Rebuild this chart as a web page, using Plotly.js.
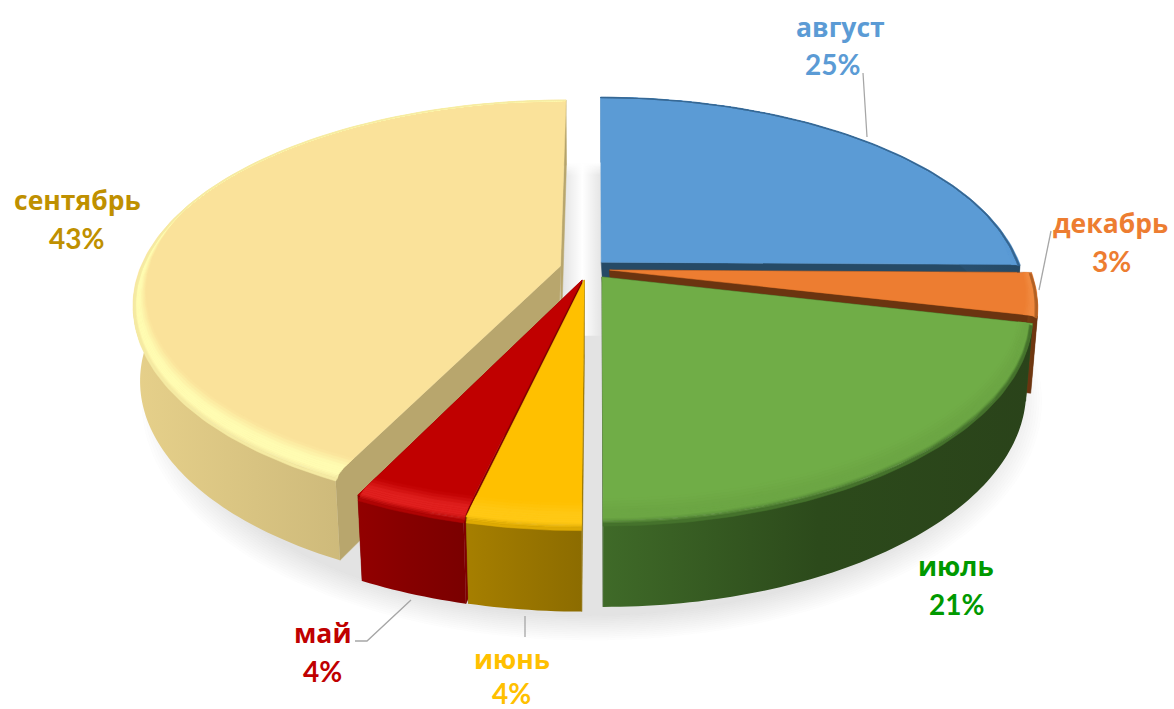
<!DOCTYPE html>
<html><head><meta charset="utf-8">
<script src="https://cdn.plot.ly/plotly-3.0.1.min.js"></script>
<style>html,body{margin:0;padding:0;background:#fff}#c{width:1174px;height:709px}</style>
</head><body><div id="c"></div>
<script>
// ---- data, clockwise from 12 o'clock ----
const categories = ['август','декабрь','июль','июнь','май','сентябрь'];
const values = [25.2,3.4,21.4,3.6,3.6,42.8];

// ---- styles ----
const labelColors = ['#5B9BD5','#ED7D31','#009900','#FFC000','#C00000','#BF9000'];
const topColors = ['#5B9BD5','#ED7D31','#70AD47','#FFC000','#C00000','#FAE29A'];
const bevelMid = ['#5B9BD5','#F08A40','#6CA644','#FFC815','#E0201F','#FFFCB2'];
const bevelEdge = ['#2F5C85','#A85A20','#3F6A28','#D9A600','#A80000','#F3E7A0'];
const wallLeft = ['#3A6F9E','#7A4014','#3F6A28','#A67F00','#920000','#E6D08A'];
const wallMid = ['#2F5C85','#703810','#2C4A1B','#997500','#850000','#CDB97A'];
const wallRight = ['#264A66','#6B3410','#2A431A','#8C6C00','#7A0000','#B5A36A'];
const cutWall = ['#264A66','#6B3410','#2F4F1D','#8C6C00','#7F0000','#B8A66D'];
const pull = [[.01,-.04],[.03,.0],[.012,.035],[-.03,.05],[-.035,.05],[-.087,-.02]];
const drawOrder = [5,0,1,2,4,3];

// ---- projection of the tilted disc ----
const cx=597, cy=270, B=421, A=197, k=.178, H=76, m=.015;
function P(u,v,z){const w=1-k*v+m*z;return [cx+B*u/w, cy+(A*v+H*z)/w];}
function polar(i,deg,r,z){const t=deg*Math.PI/180;
  return P(pull[i][0]+r*Math.sin(t),pull[i][1]-r*Math.cos(t),z);}
function arc(i,a0,a1,r,z){const n=Math.max(2,Math.ceil(Math.abs(a1-a0)));const o=[];
  for(let j=0;j<=n;j++)o.push(polar(i,a0+(a1-a0)*j/n,r,z));return o;}
// rim curve: the bevel is widest at the front and vanishes towards the back
function rim(i,a0,a1,w,z){const n=Math.max(2,Math.ceil(Math.abs(a1-a0)));const o=[];
  for(let j=0;j<=n;j++){const d=a0+(a1-a0)*j/n;
    const f=Math.max(0,(.3-Math.cos(d*Math.PI/180))/1.3);
    o.push(polar(i,d,1-.004*(w>0?1:0)-w*f,z*f));}
  return o;}
function hex(c){return [1,3,5].map(p=>parseInt(c.substr(p,2),16));}
function mix(a,b,t){const x=hex(a),y=hex(b);return 'rgb('+x.map((v,i)=>Math.round(v+(y[i]-v)*t)).join(',')+')';}

const traces=[];
function poly(pts,color,grad){
  const tr={type:'scatter',x:pts.map(p=>p[0]).concat(pts[0][0]),y:pts.map(p=>p[1]).concat(pts[0][1]),
    fill:'toself',hoverinfo:'skip',showlegend:false};
  if(grad){tr.mode='none';tr.fillgradient={type:'horizontal',colorscale:grad.map((c,j)=>[j/(grad.length-1),c])};}
  else{tr.mode='lines';tr.fillcolor=color;tr.line={color:color,width:.5};}
  traces.push(tr);
}
// soft shadow underneath
for(let s=0;s<14;s++){
  const r=1.1-s*.006, pts=[];
  for(let d=0;d<360;d+=2){const t=d*Math.PI/180;pts.push(P(-.012+.97*r*Math.sin(t),-r*Math.cos(t),1.15));}
  poly(pts,'rgba(120,120,120,0.016)');
}
// the lit centre of the gap between the pulled slices
{
  const L=polar(5,0,0,0)[0]+2, R=polar(0,0,0,0)[0]+1, T=polar(0,0,.56,0)[1], Bt=polar(2,180,.28,0)[1];
  poly([[L,T],[R,T],[R,Bt],[L,Bt]],null,['rgba(255,255,255,0)','rgba(255,255,255,1)','rgba(255,255,255,0)']);
}
// slices
const total=values.reduce((a,b)=>a+b,0);
const starts=[];values.reduce((a,v,i)=>{starts[i]=a;return a+v;},0);
drawOrder.forEach(i=>{
  const a0=starts[i]/total*360,a1=(starts[i]+values[i])/total*360;
  const apexT=polar(i,0,0,0);
  // radial cut walls
  if(a0>0) poly([apexT,polar(i,a0,1,0),polar(i,a0,1,1),polar(i,a0,.012,1)],cutWall[i]);
  poly([apexT,polar(i,a1,1,0),polar(i,a1,1,1),polar(i,a1,.012,1)],cutWall[i]);
  // outer wall
  poly(arc(i,a0,a1,1,.02).concat(arc(i,a1,a0,1,1)),null,[wallLeft[i],wallMid[i],wallRight[i]]);
  // top face
  poly([apexT].concat(arc(i,a0,a1,1,0)),topColors[i]);
  // bevelled rim
  const stops=[[.07,0,topColors[i]],[.03,0,bevelMid[i]],[.008,.025,bevelMid[i]],[0,.07,bevelEdge[i]]];
  for(let s=0;s<stops.length-1;s++){
    const p=stops[s],q=stops[s+1];
    for(let n=0;n<4;n++){
      const t0=n/4,t1=(n+1)/4;
      poly(rim(i,a0,a1,p[0]+(q[0]-p[0])*t0,p[1]+(q[1]-p[1])*t0)
        .concat(rim(i,a1,a0,p[0]+(q[0]-p[0])*t1,p[1]+(q[1]-p[1])*t1)),
        mix(p[2],q[2],(t0+t1)/2));
    }
  }
});
// leader lines
const leaders=[
  [[863,73],[867,137]],
  [[1051,231],[1039,290]],
  [[525,616],[525,637]],
  [[355,641],[367,641],[411,600]]
];
leaders.forEach(l=>traces.push({type:'scatter',mode:'lines',x:l.map(p=>p[0]),y:l.map(p=>p[1]),
  line:{color:'#A6A6A6',width:1.3},hoverinfo:'skip',showlegend:false}));

// labels
const labelPos=[[840,27],[1110,223],[956,566],[512,659],[322,633],[77,200]];
const percentPos=[[832,64],[1111,261],[956,604],[511,693],[322,671],[76,238]];
const annotations=[];
categories.forEach((c,i)=>{
  const f={family:'"Open Sans", sans-serif',size:26.5,color:labelColors[i]};
  const g={family:'Lato, "Open Sans", sans-serif',size:28,color:labelColors[i]};
  annotations.push({x:labelPos[i][0],y:labelPos[i][1],text:'<b>'+c+'</b>',showarrow:false,font:f,xref:'x',yref:'y'});
  annotations.push({x:percentPos[i][0],y:percentPos[i][1],text:'<b>'+Math.round(values[i])+'%</b>',showarrow:false,font:g,xref:'x',yref:'y'});
});
Plotly.newPlot('c',traces,{
  width:1174,height:709,margin:{l:0,r:0,t:0,b:0},paper_bgcolor:'#fff',plot_bgcolor:'#fff',
  xaxis:{range:[0,1174],visible:false,fixedrange:true},
  yaxis:{range:[709,0],visible:false,fixedrange:true},
  annotations:annotations,showlegend:false,hovermode:false
},{displayModeBar:false,staticPlot:true});
</script></body></html>
